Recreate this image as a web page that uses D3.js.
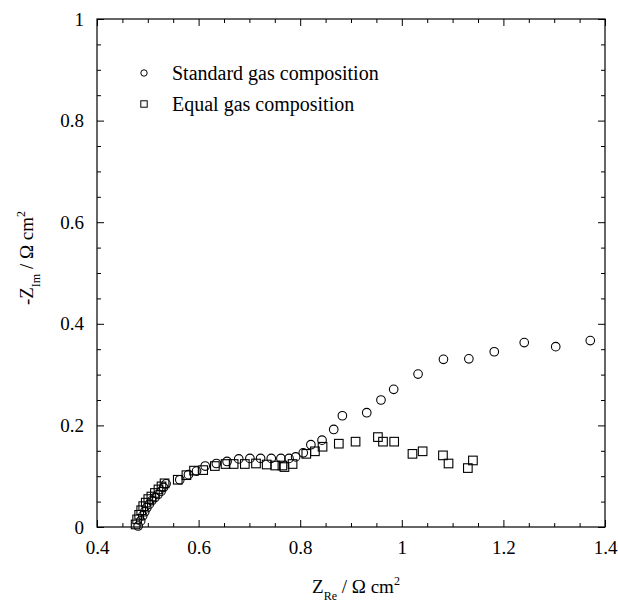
<!DOCTYPE html>
<html>
<head>
<meta charset="utf-8">
<script src="https://cdn.jsdelivr.net/npm/d3@7"></script>
<style>
  body { margin: 0; background: #fff; }
  svg text { font-family: "Liberation Serif", "DejaVu Serif", serif; fill: #000; }
  .axis path { display: none; }
  .axis line { stroke: #000; stroke-width: 1; }
  .axis text { font-size: 19px; }
</style>
</head>
<body>
<svg id="chart"></svg>
<script>
// Standard gas composition (circles)
const standardRe = [0.481, 0.486, 0.490, 0.494, 0.498, 0.503, 0.508, 0.514, 0.520, 0.526, 0.531, 0.536,
  0.563, 0.580, 0.596, 0.613, 0.635, 0.656, 0.679, 0.701, 0.722, 0.743, 0.762, 0.778, 0.791, 0.806,
  0.821, 0.843, 0.866, 0.883, 0.931, 0.959, 0.984, 1.032, 1.082, 1.132, 1.182, 1.241, 1.303, 1.371];
const standardIm = [0.002, 0.012, 0.022, 0.030, 0.038, 0.045, 0.052, 0.058, 0.064, 0.070, 0.078, 0.085,
  0.093, 0.103, 0.110, 0.120, 0.125, 0.129, 0.134, 0.135, 0.135, 0.135, 0.135, 0.135, 0.138, 0.146,
  0.162, 0.171, 0.192, 0.219, 0.225, 0.250, 0.271, 0.301, 0.330, 0.331, 0.345, 0.363, 0.355, 0.367];

// Equal gas composition (squares)
const equalRe = [0.476, 0.479, 0.483, 0.487, 0.491, 0.496, 0.501, 0.507, 0.514, 0.521, 0.527, 0.533,
  0.559, 0.576, 0.591, 0.609, 0.632, 0.653, 0.669, 0.691, 0.713, 0.734, 0.751, 0.765, 0.769, 0.785,
  0.812, 0.829, 0.844, 0.876, 0.909, 0.953, 0.963, 0.985, 1.021, 1.041, 1.081, 1.092, 1.130, 1.140];
const equalIm = [0.005, 0.015, 0.024, 0.033, 0.041, 0.048, 0.055, 0.060, 0.067, 0.074, 0.080, 0.086,
  0.093, 0.102, 0.111, 0.112, 0.120, 0.124, 0.124, 0.124, 0.125, 0.123, 0.121, 0.121, 0.118, 0.124,
  0.144, 0.149, 0.158, 0.164, 0.168, 0.177, 0.168, 0.168, 0.144, 0.149, 0.141, 0.125, 0.116, 0.131];

const xMajor = [0.4, 0.6, 0.8, 1, 1.2, 1.4];
const xMinor = [0.45, 0.5, 0.55, 0.65, 0.7, 0.75, 0.85, 0.9, 0.95, 1.05, 1.1, 1.15, 1.25, 1.3, 1.35];
const yMajor = [0, 0.2, 0.4, 0.6, 0.8, 1];
const yMinor = [0.05, 0.1, 0.15, 0.25, 0.3, 0.35, 0.45, 0.5, 0.55, 0.65, 0.7, 0.75, 0.85, 0.9, 0.95];
const seriesNames = ['Standard gas composition', 'Equal gas composition'];

const W = 618, H = 604;
const margin = {top: 19, right: 13, bottom: 77, left: 97};
const width = W - margin.left - margin.right;
const height = H - margin.top - margin.bottom;

const svg = d3.select('#chart').attr('width', W).attr('height', H);
const chart = svg.append('g').attr('transform', `translate(${margin.left},${margin.top})`);

const x = d3.scaleLinear().domain([0.4, 1.4]).range([0, width]);
const y = d3.scaleLinear().domain([0, 1]).range([height, 0]);

const fmt = d => String(+d.toFixed(2));

// bottom axis with labels
chart.append('g').attr('class', 'axis').attr('transform', `translate(0,${height})`)
  .call(d3.axisBottom(x).tickValues(xMajor).tickSize(-7).tickPadding(14).tickFormat(fmt))
  .selectAll('text').attr('dy', '0.71em');
chart.append('g').attr('class', 'axis').attr('transform', `translate(0,${height})`)
  .call(d3.axisBottom(x).tickValues(xMinor).tickSize(-4).tickFormat(''));
// top axis
chart.append('g').attr('class', 'axis')
  .call(d3.axisTop(x).tickValues(xMajor).tickSize(-7).tickFormat(''));
chart.append('g').attr('class', 'axis')
  .call(d3.axisTop(x).tickValues(xMinor).tickSize(-4).tickFormat(''));
// left axis with labels
chart.append('g').attr('class', 'axis')
  .call(d3.axisLeft(y).tickValues(yMajor).tickSize(-7).tickPadding(13).tickFormat(fmt));
chart.append('g').attr('class', 'axis')
  .call(d3.axisLeft(y).tickValues(yMinor).tickSize(-4).tickFormat(''));
// right axis
chart.append('g').attr('class', 'axis').attr('transform', `translate(${width},0)`)
  .call(d3.axisRight(y).tickValues(yMajor).tickSize(-7).tickFormat(''));
chart.append('g').attr('class', 'axis').attr('transform', `translate(${width},0)`)
  .call(d3.axisRight(y).tickValues(yMinor).tickSize(-4).tickFormat(''));

// frame
chart.append('rect')
  .attr('width', width).attr('height', height)
  .attr('fill', 'none').attr('stroke', '#000').attr('stroke-width', 1.2);

// standard series - circles
chart.selectAll('.std')
  .data(standardRe.map((v, i) => ({re: v, im: standardIm[i]})))
  .join('circle')
  .attr('class', 'std')
  .attr('cx', d => x(d.re))
  .attr('cy', d => y(d.im))
  .attr('r', 4.3)
  .attr('fill', 'none')
  .attr('stroke', '#000')
  .attr('stroke-width', 1.1);

// equal series - squares
const s = 8.6;
chart.selectAll('.eq')
  .data(equalRe.map((v, i) => ({re: v, im: equalIm[i]})))
  .join('rect')
  .attr('class', 'eq')
  .attr('x', d => x(d.re) - s / 2)
  .attr('y', d => y(d.im) - s / 2)
  .attr('width', s)
  .attr('height', s)
  .attr('fill', 'none')
  .attr('stroke', '#000')
  .attr('stroke-width', 1.1);

// legend
const legend = chart.append('g').attr('transform', 'translate(47,54)');
legend.append('circle').attr('cx', 0).attr('cy', 0).attr('r', 3.2)
  .attr('fill', 'none').attr('stroke', '#000');
legend.append('rect').attr('x', -3.2).attr('y', 31 - 3.2).attr('width', 6.4).attr('height', 6.4)
  .attr('fill', 'none').attr('stroke', '#000');
legend.selectAll('.leg-text')
  .data(seriesNames)
  .join('text')
  .attr('class', 'leg-text')
  .attr('x', 28)
  .attr('y', (d, i) => i * 31)
  .attr('dy', '0.35em')
  .style('font-size', '20px')
  .text(d => d);

// x axis title
const xt = svg.append('text')
  .attr('x', 356)
  .attr('y', 593)
  .attr('text-anchor', 'middle')
  .style('font-size', '19px');
xt.append('tspan').text('Z');
xt.append('tspan').attr('dy', 7).style('font-size', '12px').text('Re');
xt.append('tspan').attr('dy', -7).text(' / Ω cm');
xt.append('tspan').attr('dy', -8).style('font-size', '12px').text('2');

// y axis title
const yt = svg.append('text')
  .attr('transform', 'translate(33,258) rotate(-90)')
  .attr('text-anchor', 'middle')
  .style('font-size', '19px');
yt.append('tspan').text('-Z');
yt.append('tspan').attr('dy', 7).style('font-size', '12px').text('Im');
yt.append('tspan').attr('dy', -7).text('  / Ω cm');
yt.append('tspan').attr('dy', -8).style('font-size', '12px').text('2');
</script>
</body>
</html>
